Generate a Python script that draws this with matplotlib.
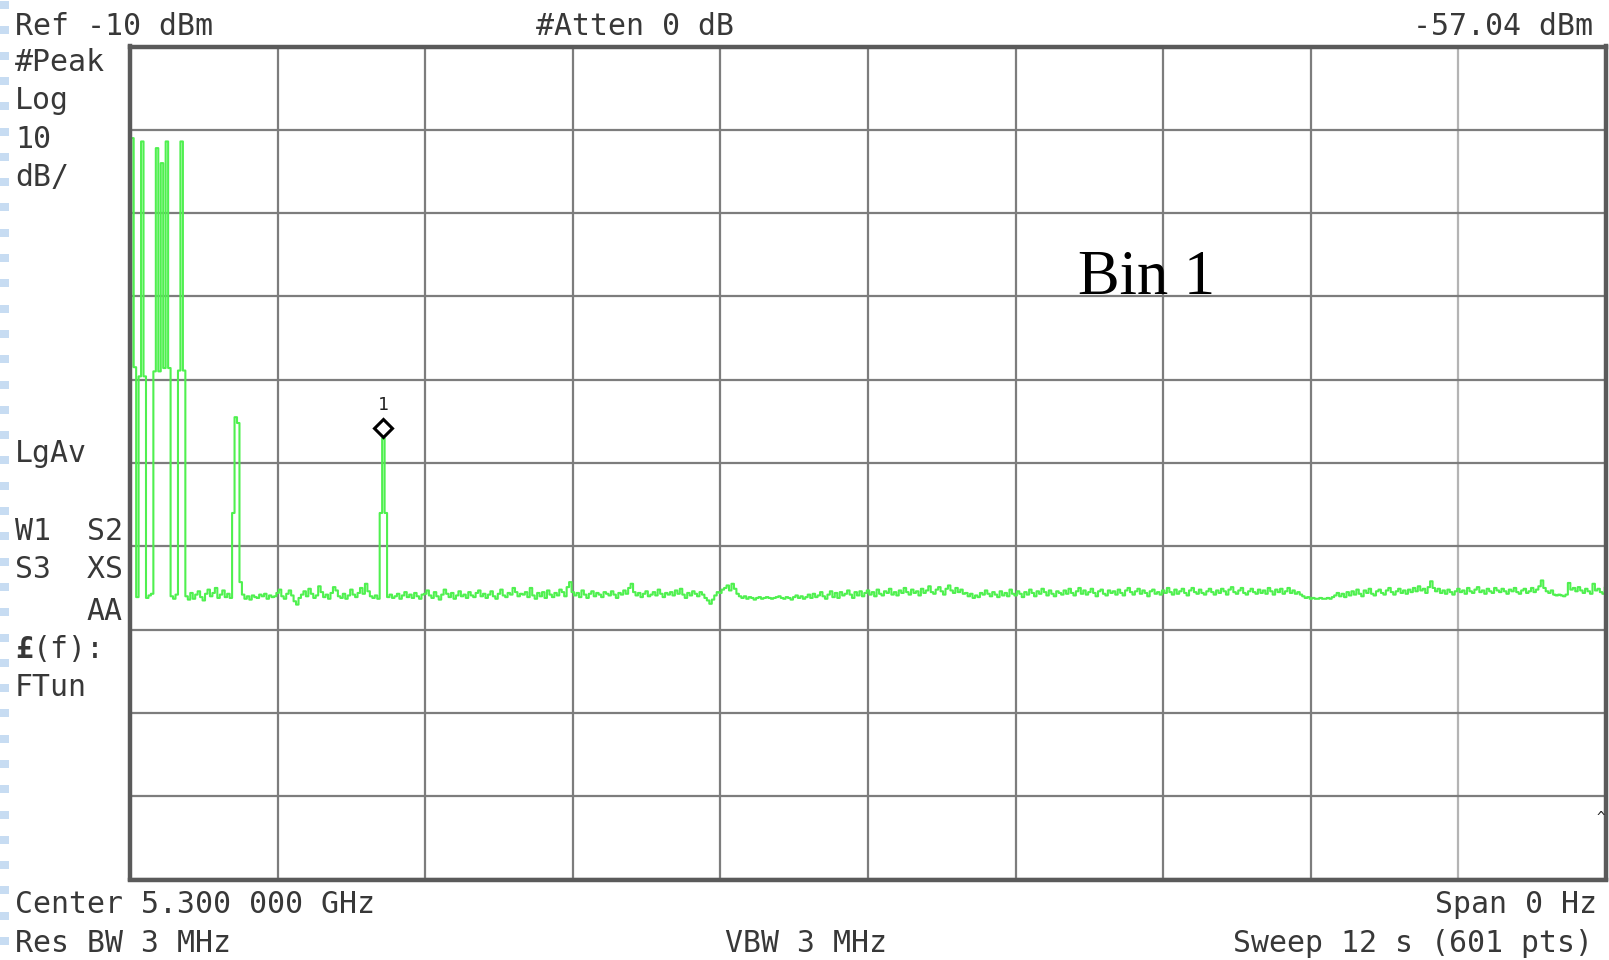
import matplotlib
matplotlib.use("Agg")
import matplotlib.pyplot as plt
from matplotlib.patches import Rectangle
from matplotlib.transforms import offset_copy
import numpy as np

# ---- instrument settings -------------------------------------------------
ref_level_dbm = -10
db_per_div = 10
n_divisions = 10
sweep_time_s = 12
n_points = 601

header_left = "Ref -10 dBm"
header_mid = "#Atten 0 dB"
footer_row1_left = "Center 5.300 000 GHz"
footer_row1_right = "Span 0 Hz"
footer_row2_left = "Res BW 3 MHz"
footer_row2_mid = "VBW 3 MHz"
footer_row2_right = "Sweep 12 s (601 pts)"
side_labels_top = ["#Peak", "Log", "10", "dB/"]
side_labels_mid = ["LgAv", "W1  S2", "S3  XS"]
side_labels_low = ["(f):", "FTun"]
annotation_text = "Bin 1"

marker_index = 103
marker_name = "1"

# ---- zero-span trace, one value per sweep point (dBm) ---------------------
trace_dbm = [
    -48.5, -21.0, -48.5, -76.1, -49.6, -21.4, -49.6, -76.2, -75.9, -75.7,
    -49.0, -22.2, -49.0, -24.0, -48.6, -21.4, -48.6, -76.0, -76.3, -75.8,
    -48.9, -21.4, -48.9, -76.0, -76.4, -75.6, -76.3, -75.8, -75.4, -76.1,
    -76.5, -75.7, -75.2, -76.0, -75.6, -75.0, -76.2, -75.8, -75.3, -76.1,
    -75.7, -76.2, -66.0, -54.5, -55.2, -74.3, -75.8, -76.3, -76.0, -76.4,
    -75.9, -76.1, -76.2, -75.8, -76.0, -75.7, -76.3, -75.9, -76.1, -76.0,
    -75.6, -75.2, -76.0, -76.3, -75.7, -75.3, -75.9, -76.6, -77.0, -76.2,
    -75.8, -75.4, -76.0, -75.1, -75.7, -76.2, -75.9, -74.8, -75.5, -76.1,
    -75.8, -76.3, -75.6, -74.9, -75.3, -76.0, -76.2, -75.7, -76.3, -75.9,
    -75.2, -75.8, -76.1, -75.6, -75.0, -75.7, -74.5, -75.4, -76.0, -76.2,
    -75.9, -76.3, -66.0, -57.04, -66.0, -76.1, -75.8, -76.2, -76.0, -75.7,
    -76.3, -75.9, -75.5, -76.1, -75.8, -76.2, -75.6, -76.0, -76.3, -75.8,
    -75.7, -75.3, -75.9, -76.2, -75.5, -76.0, -76.4, -75.8, -75.2, -75.7,
    -76.1, -75.6, -76.3, -75.9, -75.4, -76.0, -75.8, -76.2, -75.5, -75.9,
    -76.1, -75.6, -75.3, -76.0, -75.7, -76.2, -75.8, -75.4, -76.0, -76.3,
    -75.7, -75.2, -75.9, -76.1, -75.6, -75.8, -75.0, -75.5, -76.0, -75.7,
    -75.8, -75.5, -76.1, -75.0, -75.9, -76.3, -75.6, -76.0, -75.5, -76.2,
    -75.3, -75.8, -76.1, -75.6, -75.9, -75.2, -75.5, -76.0, -74.9, -74.3,
    -75.5, -75.9, -75.6, -76.1, -75.3, -75.8, -76.2, -75.7, -75.4, -76.0,
    -75.6, -75.8, -76.1, -75.5, -75.7, -75.9, -75.4, -75.8, -76.2, -75.6,
    -75.8, -75.3, -75.7, -75.0, -74.5, -75.5, -75.9, -75.6, -76.1, -75.7,
    -75.4, -76.0, -75.8, -75.5, -75.9, -75.2, -75.7, -76.1, -75.6, -75.8,
    -75.5, -75.9, -75.3, -75.7, -75.1, -75.8, -76.2, -75.6, -75.9, -75.4,
    -75.7, -76.0, -75.5, -75.8, -76.2, -76.5, -76.9, -76.4, -75.9, -75.5,
    -75.6, -75.2, -75.0, -74.7, -75.3, -74.5, -75.1, -75.7, -76.0, -76.2,
    -76.0, -76.3, -76.1, -76.2, -76.4, -76.2, -76.1, -76.3, -76.2, -76.1,
    -76.2, -76.3, -76.2, -76.1, -76.0, -76.2, -76.3, -76.1, -76.2, -76.4,
    -76.1, -75.9, -76.2, -76.0, -76.3, -76.1, -75.8, -76.2, -75.7, -76.1,
    -75.9, -75.5, -76.0, -76.3, -75.8, -75.4, -76.1, -75.6, -76.2, -75.5,
    -75.9, -75.7, -75.3, -75.8, -76.2, -75.5, -75.9, -75.4, -76.0, -75.6,
    -75.3, -75.8, -75.5, -76.0, -75.2, -75.7, -75.9, -75.4, -75.6, -75.1,
    -75.8, -75.5, -75.9, -75.3, -75.6, -75.0, -75.5, -75.8, -75.2, -75.6,
    -75.4, -75.9, -75.1, -75.6, -75.3, -74.8, -75.5, -75.7, -75.2, -74.9,
    -75.4, -75.8, -75.1, -74.7, -75.3, -75.6, -75.0, -75.5, -75.2, -75.7,
    -75.6, -76.0, -75.7, -76.2, -75.9, -76.1, -75.6, -75.8, -75.3, -75.7,
    -76.0, -75.5, -75.8, -76.1, -75.4, -75.9, -75.6, -76.0, -75.2, -75.7,
    -75.9, -75.4, -75.7, -76.1, -75.5, -75.8, -75.2, -75.6, -76.0, -75.4,
    -75.7, -75.1, -75.5, -75.9, -75.3, -75.7, -76.0, -75.4, -75.6, -75.8,
    -75.3, -75.7, -75.1, -75.6, -75.9, -75.4, -75.0, -75.7, -75.3, -75.8,
    -75.5, -75.1, -75.6, -76.0, -75.4, -75.2, -75.7, -75.9, -75.3, -75.6,
    -75.4, -75.8, -75.2, -75.6, -75.9, -75.3, -75.0, -75.5, -75.8, -75.4,
    -75.1, -75.7, -75.3, -75.6, -76.0, -75.4, -75.2, -75.7, -75.5, -75.8,
    -75.3, -75.6, -75.0, -75.5, -75.8, -75.2, -75.7, -75.4, -75.1, -75.6,
    -75.9, -75.3, -75.0, -75.5, -75.7, -75.2, -75.6, -75.8, -75.4, -75.1,
    -75.5, -75.8, -75.3, -75.6, -75.1, -75.4, -75.8, -75.2, -74.9, -75.5,
    -75.7, -75.3, -75.0, -75.6, -75.8, -75.4, -75.1, -75.5, -75.7, -75.2,
    -75.6, -75.3, -75.7, -75.0, -75.4, -75.8, -75.2, -75.5, -75.1, -75.7,
    -75.4, -75.0, -75.6, -75.3, -75.7, -75.5, -75.8, -76.0, -76.2, -76.1,
    -76.3, -76.2, -76.3, -76.3, -76.2, -76.3, -76.3, -76.2, -76.3, -76.1,
    -75.9, -75.6, -76.0, -75.7, -76.1, -75.5, -75.9, -75.4, -75.8, -75.2,
    -75.7, -76.0, -75.3, -75.6, -75.1, -75.7, -75.9, -75.4, -75.2, -75.6,
    -75.8, -75.3, -75.0, -75.5, -75.8, -75.4, -75.1, -75.6, -75.3, -75.7,
    -75.2, -75.5, -75.0, -75.4, -74.8, -75.3, -75.1, -75.6, -74.9, -74.2,
    -75.0, -75.4, -75.1, -75.6, -75.3, -75.7, -75.2, -75.5, -75.8, -75.4,
    -75.1, -75.5, -75.3, -75.7, -75.0, -75.4, -75.6, -75.2, -74.9, -75.5,
    -75.3, -75.7, -75.1, -75.4, -75.6, -75.0, -75.3, -75.5, -75.1, -75.4,
    -75.7, -75.2, -75.4, -75.0, -75.5, -75.7, -75.3, -75.1, -75.6, -75.4,
    -75.0, -75.5, -75.2, -74.8, -74.1, -75.0, -75.4, -75.6, -75.3, -75.8,
    -75.9, -75.8, -75.9, -76.0, -75.8, -74.4, -75.2, -75.0, -75.4, -74.9,
    -75.3, -75.6, -75.1, -75.4, -75.7, -74.5, -75.3, -75.1, -75.5, -75.7,
    -74.9,
]

# ---- figure geometry (pixels, origin top-left) -----------------------------
W, H = 1609, 960
fig = plt.figure(figsize=(W / 100, H / 100), dpi=100)
fig.patch.set_facecolor("white")


def fx(x):
    return x / W


def fy(y):
    return 1 - y / H


ax_left, ax_right, ax_top, ax_bottom = 130, 1606, 46.5, 879.5
ax = fig.add_axes([fx(ax_left), fy(ax_bottom), fx(ax_right - ax_left),
                   (ax_bottom - ax_top) / H])

bottom_dbm = ref_level_dbm - db_per_div * n_divisions
ax.set_xlim(0, sweep_time_s)
ax.set_ylim(bottom_dbm, ref_level_dbm)
ax.set_xticks(np.linspace(0, sweep_time_s, n_divisions + 1))
ax.set_yticks(np.arange(bottom_dbm, ref_level_dbm + 1, db_per_div))
ax.tick_params(length=0, labelbottom=False, labelleft=False)
ax.grid(True, color="#7d7d7d", linewidth=1.6)
ax.set_axisbelow(True)
ax.xaxis.get_gridlines()[9].set_color("#b4b4b4")
for s in ax.spines.values():
    s.set_linewidth(3.2)
    s.set_color("#5a5a5a")
    s.set_zorder(5)

# trace
t = np.linspace(0, sweep_time_s, n_points)
ax.plot(t, trace_dbm, color="#4ff04f", linewidth=1.5, drawstyle="steps-mid",
        zorder=3)

# marker 1
mx, my = t[marker_index], trace_dbm[marker_index]
ax.plot([mx], [my], marker="D", markersize=9.5, markerfacecolor="white",
        markeredgecolor="black", markeredgewidth=2.2, linestyle="none",
        transform=offset_copy(ax.transData, fig=fig, x=0, y=10, units="dots"),
        zorder=6)
ax.text(mx, my, marker_name, fontsize=13, family="DejaVu Sans Mono",
        color="#222222", ha="center", va="baseline",
        transform=offset_copy(ax.transData, fig=fig, x=0, y=28, units="dots"),
        zorder=6)

ax.text(fx(1078), fy(294), annotation_text, transform=fig.transFigure,
        family="Liberation Serif", fontsize=45, color="black",
        ha="left", va="baseline")

# ---- screen annotations ----------------------------------------------------
mono = dict(family="DejaVu Sans Mono", fontsize=21.5, color="#383838",
            va="baseline")

fig.text(fx(15), fy(35), header_left, ha="left", **mono)
fig.text(fx(536), fy(35), header_mid, ha="left", **mono)
fig.text(fx(1593), fy(35), f"{trace_dbm[marker_index]:.2f} dBm", ha="right",
         **mono)

for i, s in enumerate(side_labels_top):
    fig.text(fx(15), fy(71 + 38.3 * i), s, ha="left", **mono)
for y, s in zip([462, 540, 578], side_labels_mid):
    fig.text(fx(15), fy(y), s, ha="left", **mono)
fig.text(fx(122), fy(620), "AA", ha="right", **mono)
fig.text(fx(15), fy(658), "£", ha="left", fontweight="bold", **mono)
fig.text(fx(33), fy(658), side_labels_low[0], ha="left", **mono)
fig.text(fx(15), fy(696), side_labels_low[1], ha="left", **mono)

fig.text(fx(15), fy(913), footer_row1_left, ha="left", **mono)
fig.text(fx(1597), fy(913), footer_row1_right, ha="right", **mono)
fig.text(fx(15), fy(952), footer_row2_left, ha="left", **mono)
fig.text(fx(725), fy(952), footer_row2_mid, ha="left", **mono)
fig.text(fx(1593), fy(952), footer_row2_right, ha="right", **mono)

fig.text(fx(1601), fy(822), "^", ha="center", family="DejaVu Sans Mono",
         fontsize=10, color="#222222", va="baseline")

# slide-edge dash strip
y = 1.0
while y < H:
    fig.add_artist(Rectangle((0, fy(y + 8)), fx(9), 8 / H,
                             transform=fig.transFigure, color="#c7dcf2",
                             linewidth=0))
    y += 25.3

fig.savefig("out.png", dpi=100, facecolor="white")
